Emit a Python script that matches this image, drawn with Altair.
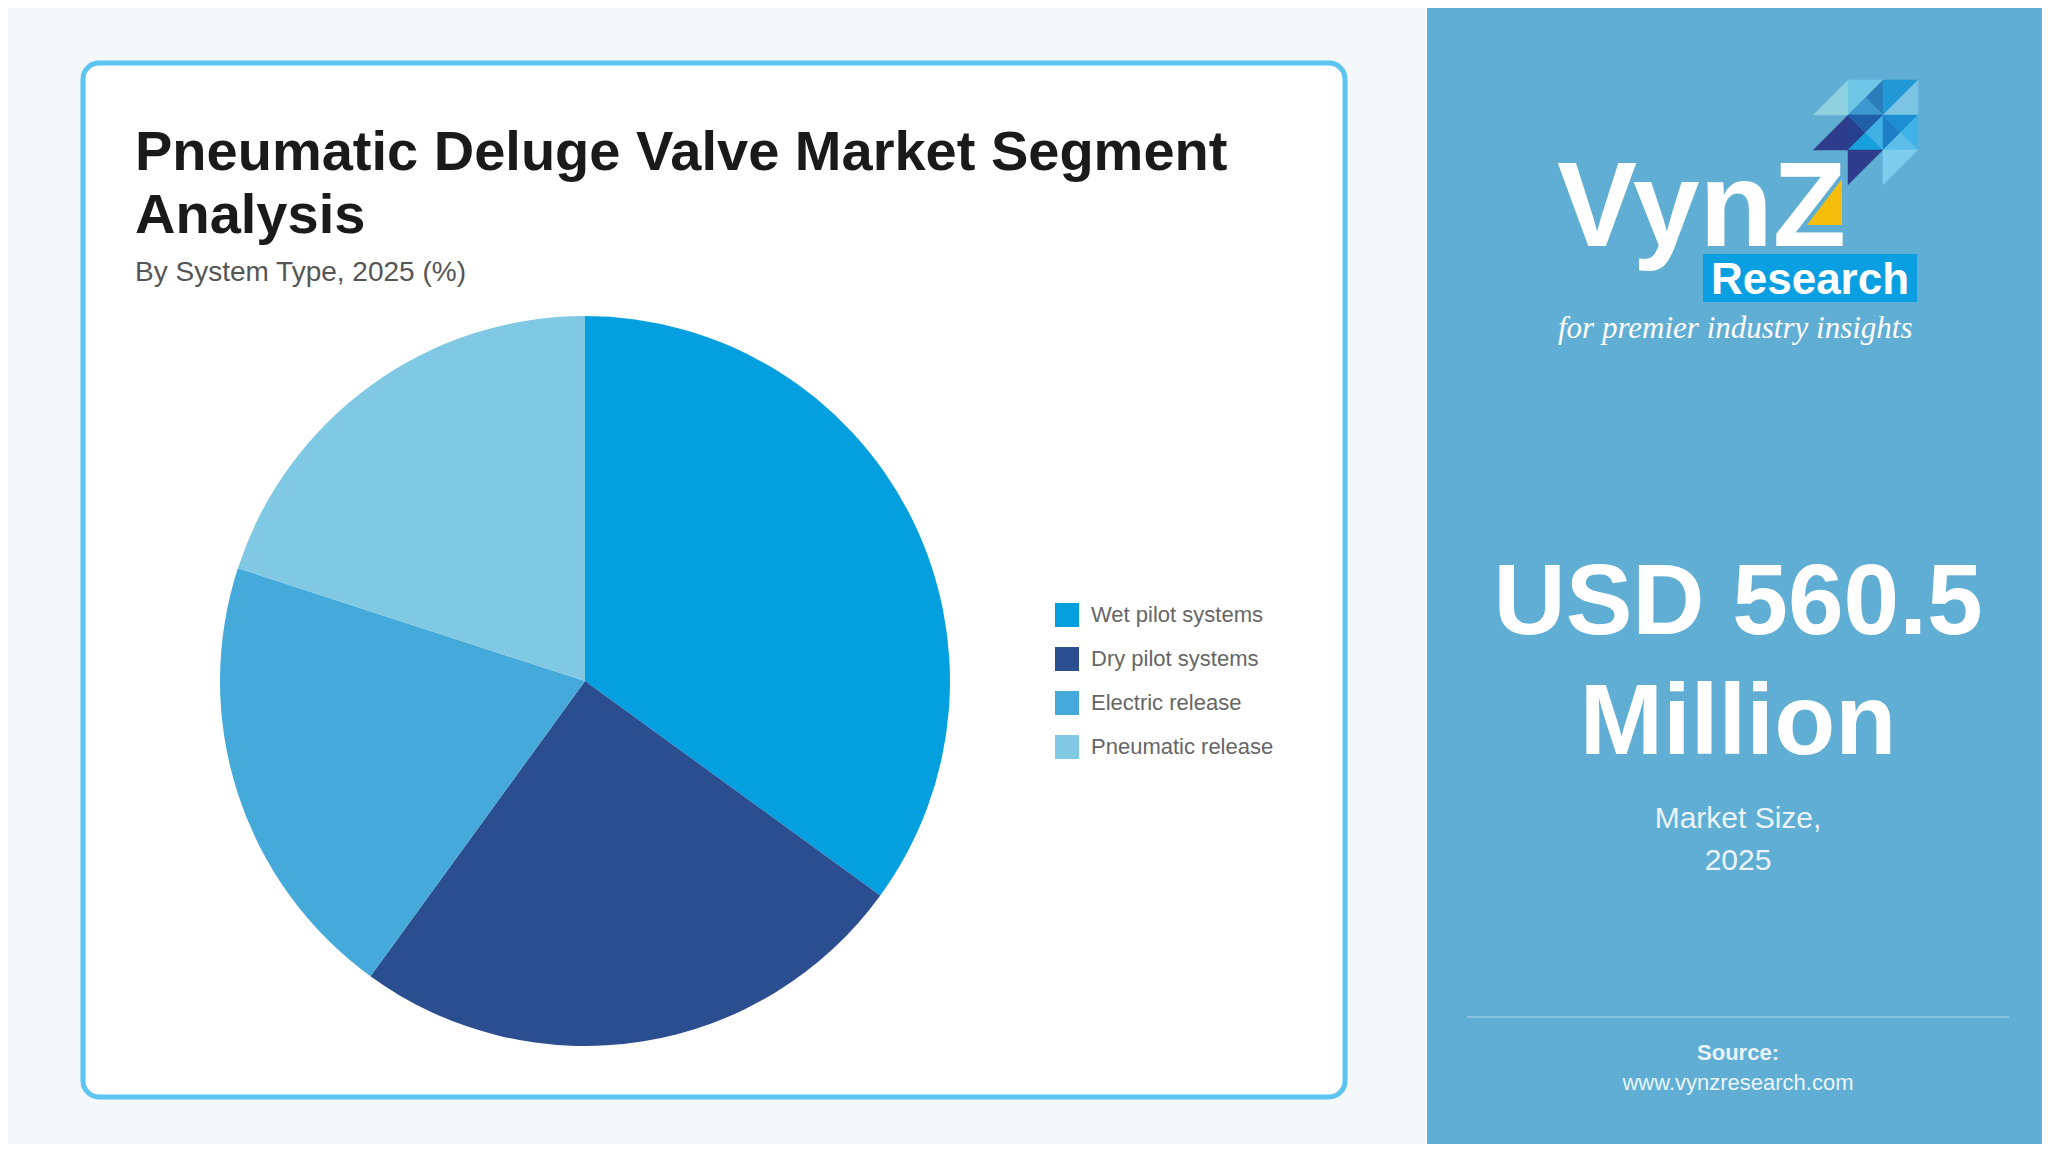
import altair as alt
import pandas as pd

# ---------------- data ----------------
categories = ["Wet pilot systems", "Dry pilot systems", "Electric release", "Pneumatic release"]
shares = [35, 25, 20, 20]
palette = ["#039FDF", "#2A4E8F", "#45AADA", "#80C9E4"]

title_lines = ["Pneumatic Deluge Valve Market Segment", "Analysis"]
subtitle = "By System Type, 2025 (%)"
market_value = ["USD 560.5", "Million"]
market_caption = ["Market Size,", "2025"]
source_label = "Source:"
source_url = "www.vynzresearch.com"

# logo mosaic (decoration)
logo_cols = [0, 1, 1, 1, 2, 2, 0, 1, 1, 1, 1, 2, 2, 2, 2, 1, 2]
logo_rows = [0, 0, 0, 0, 0, 0, 1, 1, 1, 1, 1, 1, 1, 1, 1, 2, 2]
logo_shapes = ["LR", "UL", "QR", "QB", "UL", "LR", "LR", "QL", "QT", "QR", "QB",
               "QL", "QT", "QR", "QB", "UL", "UL"]
logo_colors = ["#8FD0DF", "#6EC6E6", "#2A7DB8", "#3B97CE", "#2399D6", "#7CC4E4",
               "#2E3C8C", "#25418F", "#1F5FA8", "#40B0E5", "#16A0DC",
               "#1C7FC6", "#1C8FD2", "#3FB2E8", "#5BBDE8", "#2E3C8C", "#7ECDEE"]

# ---------------- layout helpers ----------------
W, H = 2034, 1136
M = 8
FONT = "Liberation Sans"


def px(v):
    return v - M


def text_layer(txt, x, y, size, color, weight="normal", align="left",
               font=FONT, style="normal"):
    return alt.Chart(pd.DataFrame({"t": [txt]})).mark_text(
        align=align, baseline="alphabetic", font=font, fontSize=size,
        fontWeight=weight, fontStyle=style, color=color
    ).encode(text="t:N", x=alt.value(px(x)), y=alt.value(px(y)))


def rect_layer(x1, y1, x2, y2, fill, **kw):
    return alt.Chart(pd.DataFrame({"a": [0]})).mark_rect(fill=fill, **kw).encode(
        x=alt.value(px(x1)), x2=alt.value(px(x2)),
        y=alt.value(px(y1)), y2=alt.value(px(y2)))


layers = []

# card
layers.append(rect_layer(83, 63, 1345, 1097, "#FFFFFF", stroke="#5BC4F0",
                         strokeWidth=5, cornerRadius=16))
# right panel
layers.append(rect_layer(1427, 0, 2060, 1160, "#61AED5"))

# titles
layers.append(text_layer(title_lines[0], 135, 170, 56, "#1A1A1A", weight="bold"))
layers.append(text_layer(title_lines[1], 135, 233, 56, "#1A1A1A", weight="bold"))
layers.append(text_layer(subtitle, 135, 281, 28, "#555555"))

# pie
pie_df = pd.DataFrame({"category": categories, "share": shares,
                       "order": list(range(len(categories)))})
pie = alt.Chart(pie_df).mark_arc(outerRadius=365).encode(
    theta=alt.Theta("share:Q", stack=True),
    color=alt.Color(
        "category:N",
        scale=alt.Scale(domain=categories, range=palette),
        sort=categories,
        legend=alt.Legend(
            title=None, orient="none", legendX=px(1055), legendY=px(603),
            symbolType="square", symbolSize=576, symbolStrokeWidth=0,
            symbolOpacity=1, labelFontSize=22, labelFont=FONT,
            labelColor="#666666", labelOffset=12, rowPadding=20, padding=0,
            labelLimit=0,
        ),
    ),
    order=alt.Order("order:Q"),
    x=alt.value(px(585)),
    y=alt.value(px(681)),
)
layers.append(pie)

# right panel texts
layers.append(text_layer(market_value[0], 1738, 634, 100, "#FFFFFF", weight="bold", align="center"))
layers.append(text_layer(market_value[1], 1738, 754, 100, "#FFFFFF", weight="bold", align="center"))
layers.append(text_layer(market_caption[0], 1738, 828, 30, "#EAF4FA", align="center"))
layers.append(text_layer(market_caption[1], 1738, 870, 30, "#EAF4FA", align="center"))

layers.append(alt.Chart(pd.DataFrame({"a": [0]})).mark_rule(
    color="#86C3E2", strokeWidth=2).encode(
    x=alt.value(px(1467)), x2=alt.value(px(2009)), y=alt.value(px(1017))))

layers.append(text_layer(source_label, 1738, 1060, 22, "#EAF4FA", weight="bold", align="center"))
layers.append(text_layer(source_url, 1738, 1090, 22, "#EAF4FA", align="center"))

# ---------------- logo ----------------
paths = {
    "UL": "M-1,-1L1,-1L-1,1Z",
    "LR": "M1,-1L1,1L-1,1Z",
    "QT": "M-1,-1L1,-1L0,0Z",
    "QR": "M1,-1L1,1L0,0Z",
    "QB": "M-1,1L1,1L0,0Z",
    "QL": "M-1,-1L-1,1L0,0Z",
}
x_edges = [1813, 1848, 1883, 1918]
y_edges = [80, 115, 150, 185]
logo_df = pd.DataFrame({
    "cx": [px((x_edges[c] + x_edges[c + 1]) / 2) for c in logo_cols],
    "cy": [px((y_edges[r] + y_edges[r + 1]) / 2) for r in logo_rows],
    "shape": [paths[s] for s in logo_shapes],
    "color": logo_colors,
})
layers.append(alt.Chart(logo_df).mark_point(filled=True, opacity=1, strokeWidth=0).encode(
    x=alt.X("cx:Q", scale=None), y=alt.Y("cy:Q", scale=None),
    shape=alt.Shape("shape:N", scale=None),
    color=alt.Color("color:N", scale=None),
    size=alt.value(1260),
))

# yellow triangle in the Z
yel_df = pd.DataFrame({"cx": [px(1824.5)], "cy": [px(202)],
                       "shape": ["M0.76,-1L0.76,1L-0.76,1Z"], "color": ["#F5BE0B"]})
layers.append(alt.Chart(yel_df).mark_point(filled=True, opacity=1, strokeWidth=0).encode(
    x=alt.X("cx:Q", scale=None), y=alt.Y("cy:Q", scale=None),
    shape=alt.Shape("shape:N", scale=None),
    color=alt.Color("color:N", scale=None),
    size=alt.value(2116),
))

layers.append(text_layer("VynZ", 1846, 246, 120, "#FFFFFF", weight="bold", align="right"))
layers.append(rect_layer(1703, 254, 1917, 302, "#0A9FE0"))
layers.append(text_layer("Research", 1810, 294, 44, "#FFFFFF", weight="bold", align="center"))
layers.append(text_layer("for premier industry insights", 1558, 338, 31, "#FFFFFF",
                         font="Liberation Serif", style="italic"))

chart = alt.layer(*layers).properties(
    width=W, height=H, background="#F4F8FB", padding=0,
    autosize=alt.AutoSizeParams(type="none"),
).configure_view(stroke=None)

chart.save("out.html", embed_options={"renderer": "svg", "actions": False})
